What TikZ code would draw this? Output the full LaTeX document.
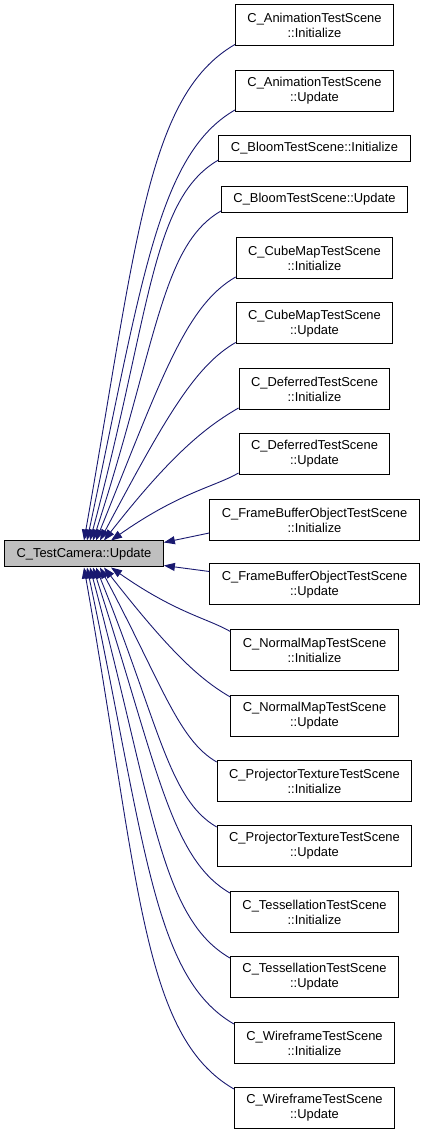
\documentclass[tikz,border=0pt]{standalone}
\usepackage{fontspec}
\setmainfont{Liberation Sans}
\usetikzlibrary{arrows.meta, calc}
\definecolor{cedge}{HTML}{191970}
\definecolor{ccur}{HTML}{BFBFBF}

\begin{document}
\begin{tikzpicture}[
  x=1pt, y=1pt,
  fnbox/.style={draw=black, line width=1pt, fill=white, align=center,
                font=\fontsize{12.9}{15}\selectfont, inner xsep=12pt,
                inner ysep=0pt, minimum height=#1},
  fnbox/.default=41pt,
  cur/.style={fnbox=26pt, fill=ccur},
  arr/.style={cedge, line width=0.9pt, -{Triangle[length=11pt, width=8pt]}}
]
\useasboundingbox (0,0) rectangle (424,1135);

%% ── Current function
\node[cur] (tc) at (84,581) {C\_TestCamera::Update};

%% ── Callers
\node[fnbox] (c1) at (314.5,1109.5) {C\_AnimationTestScene\\::Initialize};
\node[fnbox] (c2) at (314.5,1044) {C\_AnimationTestScene\\::Update};
\node[fnbox=26pt] (c3) at (314.5,986.5) {C\_BloomTestScene::Initialize};
\node[fnbox=26pt] (c4) at (314.5,935.5) {C\_BloomTestScene::Update};
\node[fnbox] (c5) at (314.5,877) {C\_CubeMapTestScene\\::Initialize};
\node[fnbox] (c6) at (314.5,811.5) {C\_CubeMapTestScene\\::Update};
\node[fnbox] (c7) at (314.5,746) {C\_DeferredTestScene\\::Initialize};
\node[fnbox] (c8) at (314.5,681) {C\_DeferredTestScene\\::Update};
\node[fnbox] (c9) at (314.5,615) {C\_FrameBufferObjectTestScene\\::Initialize};
\node[fnbox] (c10) at (314.5,550.5) {C\_FrameBufferObjectTestScene\\::Update};
\node[fnbox] (c11) at (314.5,484.5) {C\_NormalMapTestScene\\::Initialize};
\node[fnbox] (c12) at (314.5,419) {C\_NormalMapTestScene\\::Update};
\node[fnbox] (c13) at (314.5,354) {C\_ProjectorTextureTestScene\\::Initialize};
\node[fnbox] (c14) at (314.5,289) {C\_ProjectorTextureTestScene\\::Update};
\node[fnbox] (c15) at (314.5,223) {C\_TessellationTestScene\\::Initialize};
\node[fnbox] (c16) at (314.5,158) {C\_TessellationTestScene\\::Update};
\node[fnbox] (c17) at (314.5,92) {C\_WireframeTestScene\\::Initialize};
\node[fnbox] (c18) at (314.5,27) {C\_WireframeTestScene\\::Update};

%% ── Calls from the upper callers
\foreach \i/\dx/\ang in {1/0/80, 2/3/78, 3/6/75, 4/9/72,
                         5/12/68, 6/16/62, 7/20/52, 8/27/35}{
  \draw[arr] ($(c\i.south west)+(0,2)$)
    to[out=210, in=\ang, out looseness=0.5, in looseness=1.5]
    ($(tc.north)+(\dx,0)$);
}

%% ── Calls from the lower callers
\foreach \i/\dx/\ang in {11/27/35, 12/20/52, 13/16/62, 14/12/68,
                         15/9/72, 16/6/75, 17/3/78, 18/0/80}{
  \draw[arr] ($(c\i.north west)+(0,-2)$)
    to[out=150, in=-\ang, out looseness=0.5, in looseness=1.5]
    ($(tc.south)+(\dx,0)$);
}

%% ── Straight calls into the right side
\draw[arr] ($(c9.south west)+(0,8)$) -- ($(tc.north east)+(0,-2)$);
\draw[arr] ($(c10.north west)+(0,-8)$) -- ($(tc.south east)+(0,2)$);

\end{tikzpicture}
\end{document}
